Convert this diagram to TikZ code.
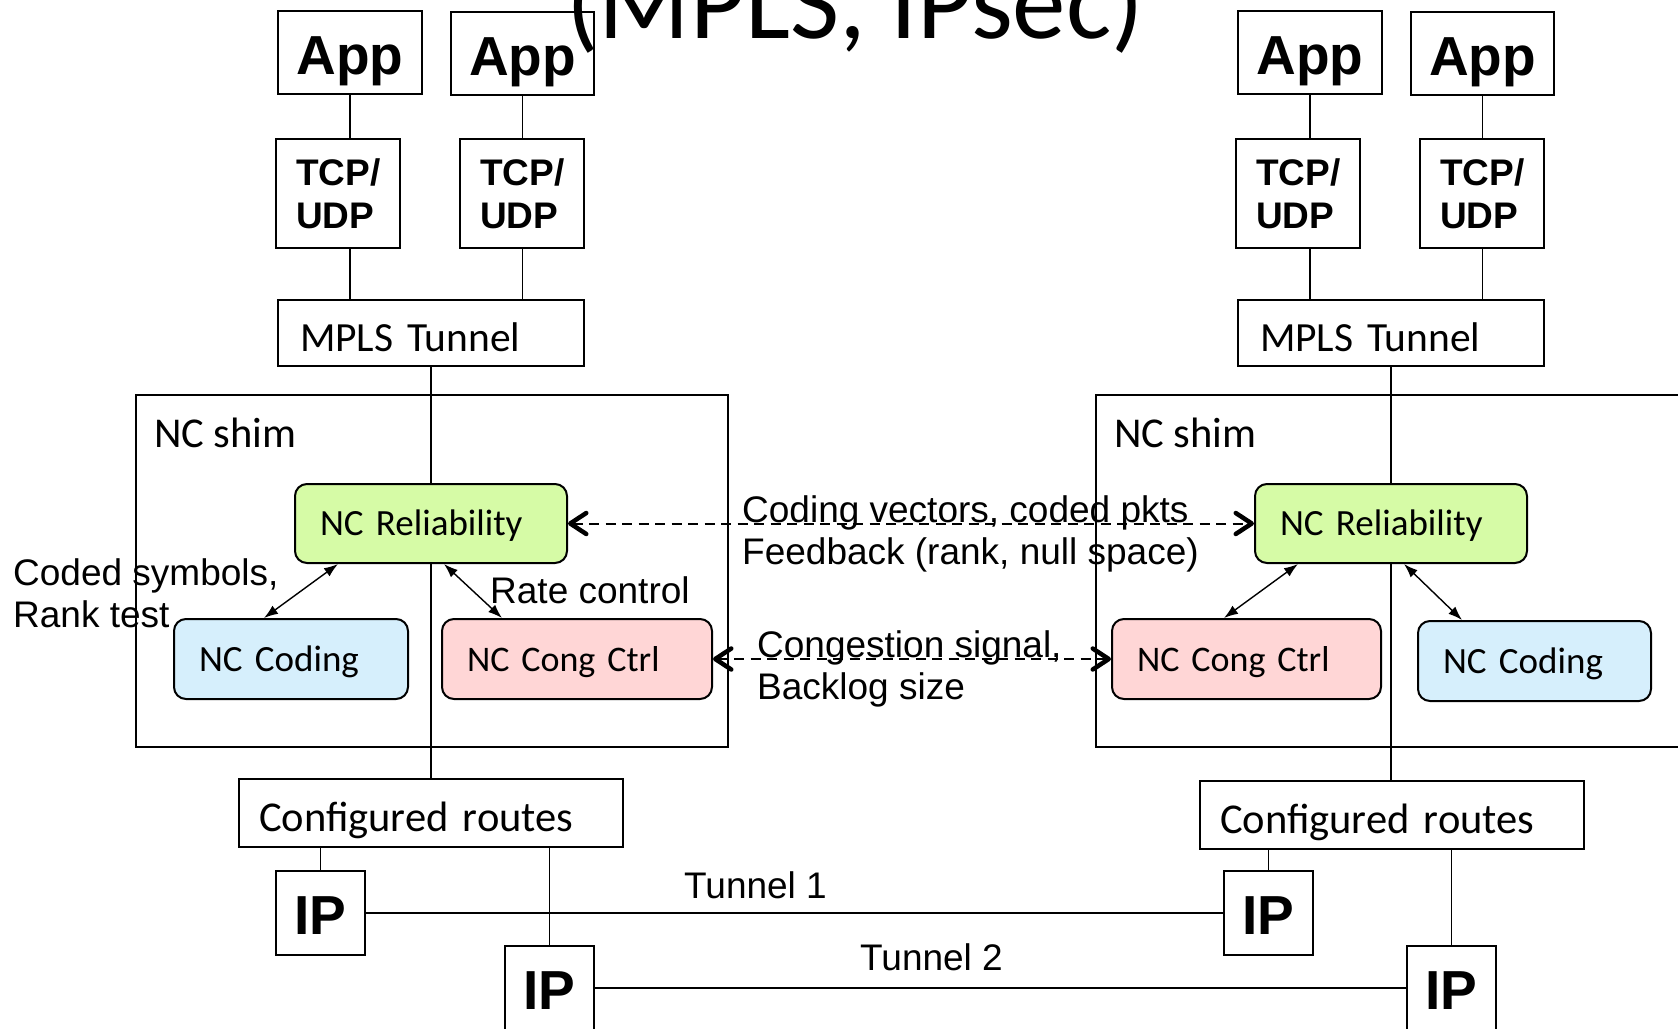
\documentclass[tikz,border=0pt]{standalone}
\usepackage{fontspec}
\setmainfont{Carlito}
\newfontfamily\arialf{Liberation Sans}
\usetikzlibrary{arrows.meta,positioning}
\pgfdeclarelayer{bg}
\pgfsetlayers{bg,main}

\definecolor{relgreen}{RGB}{214,251,166}
\definecolor{codblue}{RGB}{214,239,252}
\definecolor{congpink}{RGB}{255,214,214}

\tikzset{
  frame/.style={draw, line width=2pt, inner sep=0pt},
  appbox/.style={frame, minimum width=144pt, minimum height=83pt,
    font=\arialf\bfseries\fontsize{55}{60}\selectfont, text height=43pt, text depth=0pt},
  tcpbox/.style={frame, minimum height=109pt, inner xsep=20pt, text width=84pt,
    align=left, font=\arialf\bfseries\fontsize{37}{43}\selectfont},
  mplsbox/.style={frame, minimum height=66pt, inner xsep=22pt, text width=262pt,
    align=left, font=\fontsize{41.5}{48}\selectfont, text height=36pt, text depth=0pt},
  ncbox/.style={frame, rounded corners=12pt, minimum height=79pt, inner xsep=25pt,
    align=left, font=\fontsize{37}{44}\selectfont, text height=24pt, text depth=0pt},
  routebox/.style={frame, minimum height=68pt, inner xsep=20pt, text width=344pt,
    align=left, font=\fontsize{42.5}{48}\selectfont, text height=37pt, text depth=0pt},
  ipbox/.style={frame, minimum width=89pt, minimum height=84pt,
    font=\arialf\bfseries\fontsize{55}{60}\selectfont, text height=42pt, text depth=0pt},
  shimbox/.style={frame, minimum width=592pt, minimum height=352pt},
  shimtxt/.style={anchor=base west, inner sep=0pt, font=\fontsize{42.5}{48}\selectfont},
  lbl/.style={anchor=base west, inner sep=0pt, align=left,
    font=\arialf\fontsize{37}{42}\selectfont},
  wire/.style={line width=1.4pt},
  tunnel/.style={line width=2pt},
  dbl/.style={line width=1.4pt, {Latex[length=14pt,width=10pt]}-{Latex[length=14pt,width=10pt]}},
  barb/.tip={Straight Barb[length=16pt,width=21pt,line width'=4.5pt,round]},
  signal/.style={line width=2pt, dash pattern=on 10pt off 6.5pt, barb-barb},
}

\begin{document}
\begin{tikzpicture}[x=1pt,y=-1pt]
\clip (0,0) rectangle (1678,1028);

% heading
\node[anchor=base west, inner sep=0pt, font=\fontsize{107}{112}\selectfont] (title) at (566,38) {(MPLS, IPsec)};

% ---- left host stack ----
\node[appbox] (appL1) at (350,52.5) {App};
\node[appbox, minimum width=143pt] (appL2) at (522.5,53.5) {App};
\node[tcpbox] (tcpL1) at (338,193.5) {TCP/\\UDP};
\node[tcpbox] (tcpL2) at (522,193.5) {TCP/\\UDP};
\node[mplsbox] (mplsL) at (431,333) {MPLS Tunnel};
\node[shimbox] (shimL) at (432,571) {};
\node[shimtxt] (shimLtxt) at (154,447) {NC shim};
\node[ncbox, fill=relgreen, text width=222pt] (relL) at (431,523.5) {NC Reliability};
\node[ncbox, fill=codblue, text width=184pt, minimum height=80pt] (codL) at (291,659) {NC Coding};
\node[ncbox, fill=congpink, text width=220pt, minimum height=80pt, font=\fontsize{36}{44}\selectfont] (congL) at (577,659) {NC Cong Ctrl};
\node[routebox] (routesL) at (431,813) {Configured routes};
\node[ipbox] (ipL1) at (320.5,913) {IP};
\node[ipbox] (ipL2) at (549.5,988) {IP};

% ---- right host stack ----
\node[appbox] (appR1) at (1310,52.5) {App};
\node[appbox, minimum width=143pt] (appR2) at (1482.5,53.5) {App};
\node[tcpbox] (tcpR1) at (1298,193.5) {TCP/\\UDP};
\node[tcpbox] (tcpR2) at (1482,193.5) {TCP/\\UDP};
\node[mplsbox] (mplsR) at (1391,333) {MPLS Tunnel};
\node[shimbox] (shimR) at (1392,571) {};
\node[shimtxt] (shimRtxt) at (1114,447) {NC shim};
\node[ncbox, fill=relgreen, text width=222pt] (relR) at (1391,523.5) {NC Reliability};
\node[ncbox, fill=congpink, text width=219pt, minimum height=80pt, font=\fontsize{36}{44}\selectfont] (congR) at (1246.5,659) {NC Cong Ctrl};
\node[ncbox, fill=codblue, text width=183pt, minimum height=80pt] (codR) at (1534.5,661) {NC Coding};
\node[routebox] (routesR) at (1392,815) {Configured routes};
\node[ipbox] (ipR1) at (1268.5,913) {IP};
\node[ipbox] (ipR2) at (1451.5,988) {IP};

% ---- free labels (anchored at the baseline of their last line) ----
\node[lbl] (lblcoded) at (13,627) {Coded symbols,\\Rank test};
\node[lbl] (lblrate) at (490,603) {Rate control};
\node[lbl] (lblvec) at (742,564) {Coding vectors, coded pkts\\Feedback (rank, null space)};
\node[lbl] (lblcong) at (757,699) {Congestion signal,\\Backlog size};
\node[lbl] (lblt1) at (684,898) {Tunnel 1};
\node[lbl] (lblt2) at (860,970) {Tunnel 2};

% ---- connectors ----
\begin{pgfonlayer}{bg}
  \foreach \a/\t/\m in {appL1/tcpL1/mplsL, appL2/tcpL2/mplsL, appR1/tcpR1/mplsR, appR2/tcpR2/mplsR}{
    \draw[wire] (\a.south) -- (\a.south |- \t.north);
    \draw[wire] (\a.south |- \t.south) -- (\a.south |- \m.north);
  }
  \draw[wire] (mplsL.south) -- (mplsL.south |- routesL.north);
  \draw[wire] (mplsR.south) -- (mplsR.south |- routesR.north);
  \foreach \i/\r in {ipL1/routesL, ipL2/routesL, ipR1/routesR, ipR2/routesR}{
    \draw[wire] (\i.north) -- (\i.north |- \r.south);
  }
\end{pgfonlayer}

\draw[tunnel] (ipL1.east) -- (ipR1.west);
\draw[tunnel] (ipL2.east) -- (ipR2.west);

\draw[dbl] ([xshift=-93pt]relL.south) -- ([xshift=-27pt]codL.north);
\draw[dbl] ([xshift=13pt]relL.south) -- ([xshift=-75pt]congL.north);
\draw[dbl] ([xshift=-93pt]relR.south) -- ([xshift=-22.5pt]congR.north);
\draw[dbl] ([xshift=13pt]relR.south) -- ([xshift=-72.5pt]codR.north);

\draw[signal] (relL.east) -- (relR.west);
\draw[signal] (congL.east) -- (congR.west);
\end{tikzpicture}
\end{document}
